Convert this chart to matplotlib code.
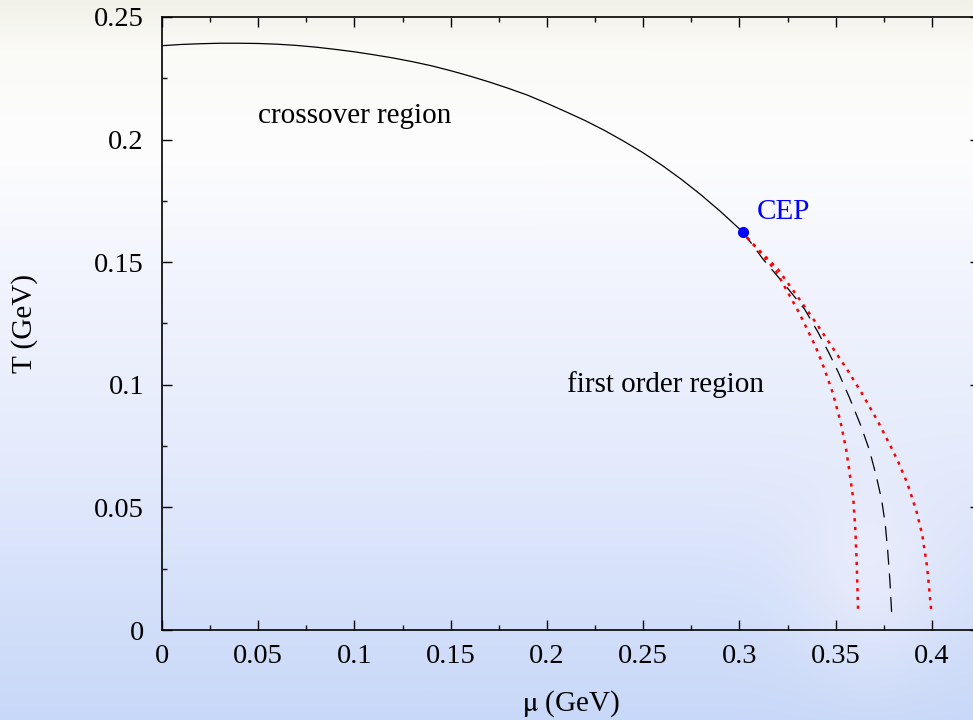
import numpy as np
import matplotlib
matplotlib.use("Agg")
import matplotlib.pyplot as plt
from matplotlib.ticker import MultipleLocator, FuncFormatter

# crossover line (mu in GeV, T in GeV)
mu_cross = [0.0, 0.01, 0.02, 0.03, 0.04, 0.05, 0.06, 0.07, 0.08, 0.09, 0.10,
            0.11, 0.12, 0.13, 0.14, 0.15, 0.16, 0.17, 0.18, 0.19, 0.20, 0.21,
            0.22, 0.23, 0.24, 0.25, 0.26, 0.27, 0.28, 0.29, 0.30, 0.3017]
T_cross = [0.2383, 0.2388, 0.2391, 0.2393, 0.2393, 0.2392, 0.2389, 0.2384,
           0.2377, 0.2368, 0.2358, 0.2346, 0.2333, 0.2318, 0.2301, 0.2281,
           0.2259, 0.2235, 0.2209, 0.2181, 0.2148, 0.2113, 0.2077, 0.2037,
           0.1993, 0.1946, 0.1894, 0.1837, 0.1775, 0.1708, 0.1636, 0.1625]

# first order line
mu_first = [0.3017, 0.3124, 0.3235, 0.3340, 0.3410, 0.3465, 0.3515, 0.3572,
            0.3630, 0.3675, 0.3710, 0.3739, 0.3758, 0.3770, 0.3782, 0.3791]
T_first = [0.1625, 0.1511, 0.1409, 0.1307, 0.1212, 0.1130, 0.1049, 0.0947,
           0.0835, 0.0735, 0.0631, 0.0531, 0.0430, 0.0327, 0.0200, 0.0069]

# spinodals
mu_spin_lo = [0.3040, 0.3072, 0.3190, 0.3310, 0.3395, 0.3443, 0.3485, 0.3525,
              0.3555, 0.3580, 0.3592, 0.3603, 0.3610, 0.3617]
T_spin_lo = [0.1600, 0.1573, 0.1464, 0.1294, 0.1157, 0.1062, 0.0967, 0.0850,
             0.0735, 0.0600, 0.0531, 0.0400, 0.0259, 0.0068]
mu_spin_hi = [0.3040, 0.3072, 0.3200, 0.3300, 0.3400, 0.3490, 0.3560, 0.3635,
              0.3720, 0.3795, 0.3825, 0.3873, 0.3920, 0.3950, 0.3975, 0.3998]
T_spin_hi = [0.1600, 0.1573, 0.1471, 0.1362, 0.1250, 0.1144, 0.1062, 0.0967,
             0.0850, 0.0735, 0.0686, 0.0597, 0.0484, 0.0388, 0.0259, 0.0068]

cep_mu, cep_T = 0.3017, 0.1625

plt.rcParams['font.family'] = ['Liberation Serif', 'DejaVu Serif']
plt.rcParams['mathtext.fontset'] = 'stix'

W, H = 973, 720
fig = plt.figure(figsize=(W / 100, H / 100), dpi=100)

# background gradient (white-ish top -> light blue bottom) with a soft glow
ys = np.array([0, 50, 150, 300, 450, 600, 720])
cols = np.array([[242, 241, 232], [250, 250, 247], [253, 253, 254], [240, 243, 253],
                 [229, 235, 252], [212, 224, 250], [200, 216, 248]]) / 255.0
yy = np.arange(H)
grad = np.stack([np.interp(yy, ys, cols[:, k]) for k in range(3)], axis=1)
bg = np.repeat(grad[:, None, :], W, axis=1)
X, Y = np.meshgrid(np.arange(W), np.arange(H))
glow = np.exp(-(((X - 870) / 75.0) ** 2 + ((Y - 570) / 100.0) ** 2))
bg = bg * (1 - 0.55 * glow[..., None]) + 0.55 * glow[..., None] * np.array([244, 242, 252]) / 255.0
bgax = fig.add_axes([0, 0, 1, 1], zorder=-10)
bgax.imshow(bg, aspect='auto', extent=[0, 1, 0, 1])
bgax.axis('off')

ax = fig.add_axes([162 / W, 1 - 630 / H, 818 / W, 613 / H])
ax.patch.set_alpha(0)

ax.plot(mu_cross, T_cross, color='black', lw=0.9)
ax.plot(mu_first, T_first, color='black', lw=0.9, linestyle=(0, (12, 7)))
ax.plot(mu_spin_lo, T_spin_lo, color='red', lw=1.8, linestyle=(0, (1.3, 2.2)))
ax.plot(mu_spin_hi, T_spin_hi, color='red', lw=1.8, linestyle=(0, (1.3, 2.2)))
ax.plot([cep_mu], [cep_T], 'o', color='blue', markersize=7, zorder=5)

ax.text(0.0499, 0.2096, 'crossover region', fontsize=21, va='center')
ax.text(0.2104, 0.1001, 'first order region', fontsize=21, va='center')
ax.text(0.3091, 0.1703, 'CEP', fontsize=21, va='center', color='blue')

ax.set_xlim(0, 0.425)
ax.set_ylim(0, 0.25)
ax.xaxis.set_major_locator(MultipleLocator(0.05))
ax.xaxis.set_minor_locator(MultipleLocator(0.025))
ax.yaxis.set_major_locator(MultipleLocator(0.05))
ax.yaxis.set_minor_locator(MultipleLocator(0.025))
fmt = FuncFormatter(lambda v, p: '%g' % round(v, 3))
ax.xaxis.set_major_formatter(fmt)
ax.yaxis.set_major_formatter(fmt)
ax.tick_params(which='both', direction='in', top=True, right=True, labelsize=20.5)
ax.tick_params(which='major', length=7, width=1.0)
ax.tick_params(which='minor', length=3.5, width=1.0)
ax.tick_params(axis='x', pad=10)
ax.tick_params(axis='y', pad=13)
for s in ax.spines.values():
    s.set_linewidth(1.2)

ax.set_xlabel(r'$\mathrm{\mu}$ (GeV)', fontsize=21)
ax.set_ylabel('T (GeV)', fontsize=21)
ax.xaxis.set_label_coords(0.5, -0.095)
ax.yaxis.set_label_coords(-0.152, 0.5008)

fig.savefig('out.png', dpi=100)
